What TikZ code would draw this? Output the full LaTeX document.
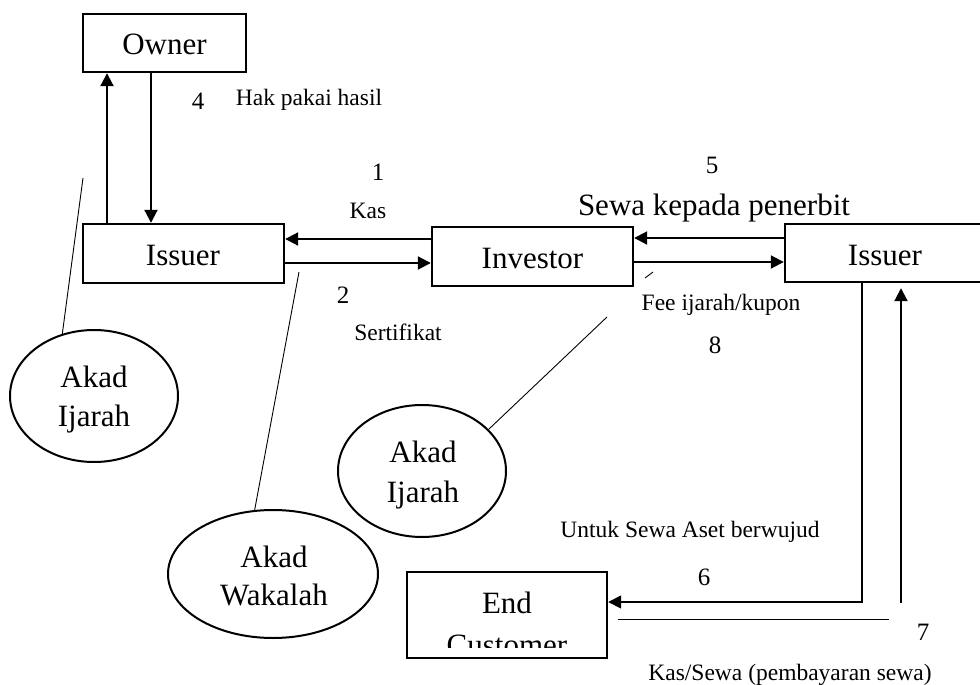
\documentclass[tikz,border=0pt]{standalone}
\usepackage{fontspec}
\setmainfont{Liberation Serif}
\usetikzlibrary{shapes.geometric,arrows.meta}
\begin{document}
\begin{tikzpicture}[x=1pt,y=-1pt,
 box/.style={draw, line width=2.4pt, rectangle, inner sep=0pt},
 ell/.style={draw, line width=2pt, ellipse, inner sep=0pt},
 arr/.style={line width=2pt, -{Triangle[length=13pt,width=13pt]}},
 thinline/.style={line width=0.9pt},
 lt/.style={font=\fontsize{31}{38}\selectfont, anchor=base, inner sep=0pt},
 st/.style={font=\fontsize{23.5}{28}\selectfont, anchor=base, inner sep=0pt},
 num/.style={font=\fontsize{25}{30}\selectfont, anchor=base, inner sep=0pt}]
\useasboundingbox (0,0) rectangle (980,685);
% boxes
\node[box, minimum width=163pt, minimum height=58pt] (owner) at (164.5,43) {};
\node[box, minimum width=201pt, minimum height=59pt] (issL) at (183.5,253.5) {};
\node[box, minimum width=201pt, minimum height=59pt] (inv) at (532.5,256.5) {};
\node[box, minimum width=201pt, minimum height=58pt] (issR) at (885.5,253) {};
\node[box, minimum width=200pt, minimum height=86pt] (endc) at (507,615) {};
% ellipses
\node[ell, minimum width=168pt, minimum height=132pt] (akL) at (94,396) {};
\node[ell, minimum width=210pt, minimum height=128pt] (akW) at (273,574) {};
\node[ell, minimum width=168pt, minimum height=132pt] (akM) at (422,471) {};
% box texts
\node[lt] (tOwner) at (164.5,55) {Owner};
\node[lt] (tIssL) at (183,265) {Issuer};
\node[lt] (tInv) at (532.5,268) {Investor};
\node[lt] (tIssR) at (885,265) {Issuer};
\node[lt] (tEnd) at (507,613) {End};
\begin{scope}
\clip (407,573) rectangle (607,647);
\node[lt] (tCust) at (507,655) {Customer};
\end{scope}
% ellipse texts
\node[lt] (tA1) at (94,387) {Akad};
\node[lt] (tI1) at (94,426) {Ijarah};
\node[lt] (tA2) at (274,567) {Akad};
\node[lt] (tW2) at (274,605) {Wakalah};
\node[lt] (tA3) at (423,462) {Akad};
\node[lt] (tI3) at (423,502) {Ijarah};
% labels
\node[lt] (tSewa) at (714,215) {Sewa kepada penerbit};
\node[num] (n4) at (198,109) {4};
\node[num] (n1) at (378,180) {1};
\node[num] (n2) at (343,303) {2};
\node[num] (n5) at (712,173) {5};
\node[num] (n8) at (715,353) {8};
\node[num] (n6) at (704,585) {6};
\node[num] (n7) at (923,640) {7};
\node[st] (tHak) at (309,106) {Hak pakai hasil};
\node[st] (tKas) at (368,218) {Kas};
\node[st] (tSert) at (398,340) {Sertifikat};
\node[st] (tFee) at (721,310) {Fee ijarah/kupon};
\node[st] (tUntuk) at (690,537) {Untuk Sewa Aset berwujud};
\node[st] (tKasSewa) at (790,680) {Kas/Sewa (pembayaran sewa)};
% arrows
\draw[arr] (107,0 |- issL.north) -- (107,0 |- owner.south);
\draw[arr] (151,0 |- owner.south) -- (151,0 |- issL.north);
\draw[arr] (inv.west |- 0,239) -- (issL.east |- 0,239);
\draw[arr] (issL.east |- 0,263) -- (inv.west |- 0,263);
\draw[arr] (issR.west |- 0,238) -- (inv.east |- 0,238);
\draw[arr] (inv.east |- 0,262) -- (issR.west |- 0,262);
\coordinate (c7) at (901,603);
\draw[arr, shorten >=5pt] (c7) -- (901,0 |- issR.south);
\draw[line width=1.6pt, -{Triangle[length=13pt,width=13pt]}] (862,0 |- issR.south) |- (endc.east |- 0,602);
% thin lines
\coordinate (t1) at (618,619);
\coordinate (t2) at (889,619);
\draw[thinline] (t1) -- (t2);
\coordinate (p1) at (83,178);
\draw[thinline] (p1) -- (akL.117);
\coordinate (p2) at (299,272);
\draw[thinline] (p2) -- (akW.106);
\coordinate (p3) at (607,317);
\draw[thinline] (p3) -- (akM.32);
\coordinate (q1) at (645,278);
\coordinate (q2) at (653,272);
\draw[thinline] (q1) -- (q2);
\end{tikzpicture}
\end{document}
